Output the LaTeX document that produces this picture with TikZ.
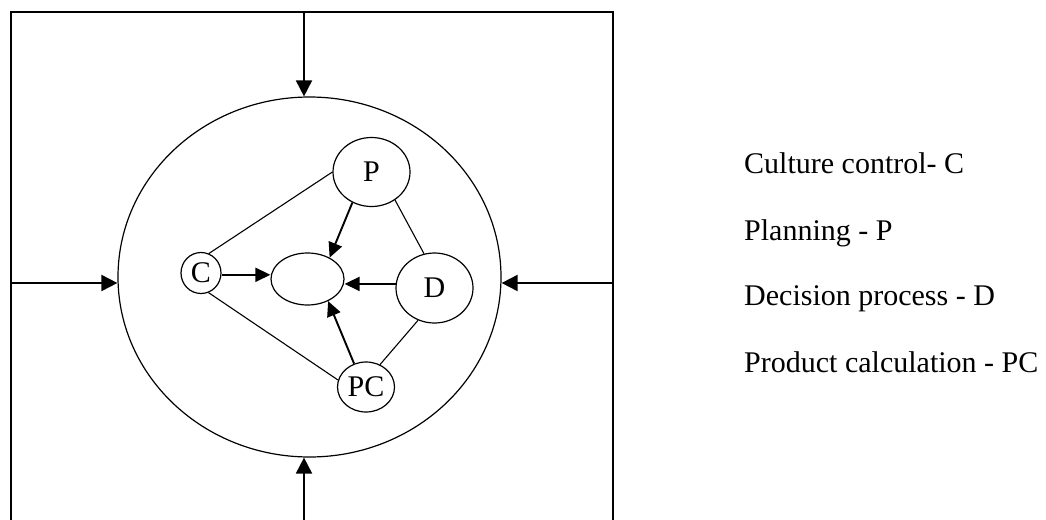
\documentclass[tikz,border=0pt]{standalone}
\usepackage{fontspec}
\setmainfont{Liberation Serif}
\usetikzlibrary{shapes.geometric,arrows.meta}
\begin{document}
\begin{tikzpicture}[x=1pt,y=1pt,
  frameline/.style={line width=1.6pt},
  bigarrow/.style={line width=1.9pt,-{Triangle[length=16pt,width=16pt]}},
  smallarrow/.style={line width=1.9pt,-{Triangle[length=15pt,width=14pt]}},
  link/.style={line width=1.1pt},
  oval/.style={ellipse,draw,line width=1.2pt,inner sep=0pt,font=\fontsize{30}{34}\selectfont},
  legend/.style={anchor=base west,inner sep=0pt,font=\fontsize{30}{34}\selectfont}]
\useasboundingbox (0,-519) rectangle (1046,0);
% frame
\coordinate (fl) at (11,-530);
\coordinate (ftl) at (11,-12);
\coordinate (ftr) at (613,-12);
\coordinate (fr) at (613,-530);
\draw[frameline] (fl) -- (ftl) -- (ftr) -- (fr);
\coordinate (topin) at (304,-12);
\coordinate (botin) at (304,-530);
\coordinate (leftin) at (11,-283);
\coordinate (rightin) at (613,-283);
% big circle
\node[oval,minimum width=383pt,minimum height=360pt] (B) at (309.5,-277) {};
% inner nodes
\node[oval,minimum width=77pt,minimum height=69pt] (P) at (371.5,-172) {P};
\node[oval,minimum width=40pt,minimum height=41pt] (C) at (201,-273) {C};
\node[oval,minimum width=73pt,minimum height=52pt] (X) at (307.5,-279) {};
\node[oval,minimum width=77pt,minimum height=70pt] (D) at (434.5,-288) {D};
\node[oval,minimum width=57pt,minimum height=50pt] (PC) at (366,-387) {PC};
% outer arrows
\draw[bigarrow] (topin) -- (topin |- B.north);
\draw[bigarrow] (botin) -- (botin |- B.south);
\draw[bigarrow] (leftin) -- (leftin -| B.west);
\draw[bigarrow] (rightin) -- (rightin -| B.east);
% links
\draw[link] (C.68) -- (P.180);
\draw[link] (C.291) -- (PC.166);
\draw[link] (P.310) -- (D.107);
\draw[link] (D.243) -- (PC.58);
% arrows into the centre
\draw[smallarrow] (P.238) -- (X.44);
\draw[smallarrow] (C.-5) -- (C.-5 -| X.west);
\draw[smallarrow] (D.174) -- (D.174 -| X.east);
\draw[smallarrow] (PC.117) -- (X.313);
% legend
\node[legend] (l1) at (744,-173) {Culture control- C};
\node[legend] (l2) at (744,-240) {Planning - P};
\node[legend] (l3) at (744,-305) {Decision process - D};
\node[legend] (l4) at (744,-372) {Product calculation - PC};
\end{tikzpicture}
\end{document}
